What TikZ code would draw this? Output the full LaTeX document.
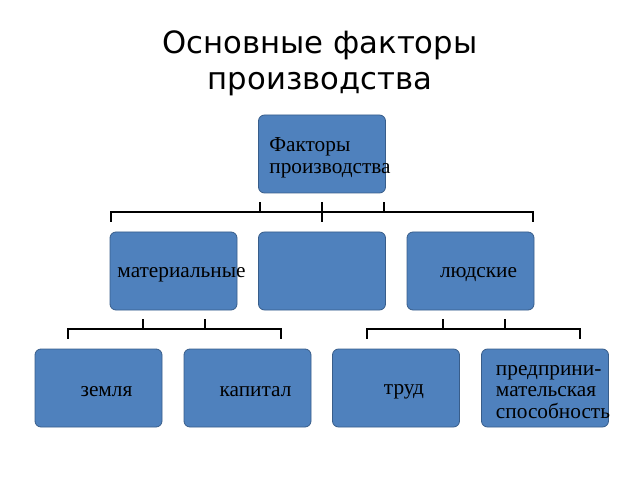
\documentclass[tikz,border=0pt]{standalone}
\usepackage{fontspec}
\setmainfont{Liberation Serif}
\newfontfamily\titlefont{DejaVu Sans}
\usetikzlibrary{positioning}
\definecolor{boxfill}{HTML}{4F81BD}
\definecolor{boxborder}{HTML}{385D8A}

\begin{document}
\begin{tikzpicture}[x=1pt,y=1pt,node distance=117pt and 148.5pt,on grid,
	box/.style={draw=boxborder,fill=boxfill,line width=0.8pt,rounded corners=6pt,minimum width=127pt,minimum height=78pt,inner sep=0pt},
	txt/.style={font=\fontsize{21.3}{21.5}\selectfont,align=left,inner sep=0pt,xshift=8pt,yshift=-4pt},
	bracket/.style={line width=2pt}]
		\useasboundingbox (0,0) rectangle (640,480);
		\node[font=\titlefont\fontsize{30.7}{36}\selectfont,align=center](title) at (320,417) {Основные факторы\\производства};
		\node[box](top) at (322,326) {};
		\node[box](mid)[below=of top] {};
		\node[box](mat)[left=of mid] {};
		\node[box](people)[right=of mid] {};
		\node[box](land)[below left=117pt and 75pt of mat] {};
		\node[box](capital)[below right=117pt and 74pt of mat] {};
		\node[box](labour)[below left=117pt and 74.5pt of people] {};
		\node[box](enterp)[below right=117pt and 74.5pt of people] {};
		\node[txt](top-t) at (top) {Факторы\\производства};
		\node[txt](mat-t) at (mat) {материальные};
		\node[txt](people-t) at (people) {людские};
		\node[txt](land-t) at (land) {земля};
		\node[txt](capital-t) at (capital) {капитал};
		\node[txt](labour-t) at (labour) {труд};
		\node[txt](enterp-t) at (enterp) {предприни-\\мательская\\способность};
		% top bracket
		\coordinate (top-bar) at ([yshift=-19pt]top.south);
		\draw[bracket] ([xshift=1pt,yshift=10pt]mat.north west) |- (top-bar) -| ([xshift=-1.5pt,yshift=10pt]people.north east);
		\draw[bracket] ([xshift=1.5pt,yshift=-9pt]top.south west) -- ++(0,-10pt);
		\draw[bracket] ([xshift=-1.5pt,yshift=-9pt]top.south east) -- ++(0,-10pt);
		\draw[bracket] ([yshift=-9pt]top.south) -- ([yshift=10pt]mid.north);
		% left bracket
		\coordinate (mat-bar) at ([yshift=-19pt]mat.south);
		\draw[bracket] ([xshift=-30.5pt,yshift=10pt]land.north) |- (mat-bar) -| ([xshift=33.5pt,yshift=10pt]capital.north);
		\draw[bracket] ([xshift=-30.5pt,yshift=-9pt]mat.south) -- ++(0,-10pt);
		\draw[bracket] ([xshift=31.5pt,yshift=-9pt]mat.south) -- ++(0,-10pt);
		% right bracket
		\coordinate (people-bar) at ([yshift=-19pt]people.south);
		\draw[bracket] ([xshift=-29.5pt,yshift=10pt]labour.north) |- (people-bar) -| ([xshift=34.5pt,yshift=10pt]enterp.north);
		\draw[bracket] ([xshift=-28pt,yshift=-9pt]people.south) -- ++(0,-10pt);
		\draw[bracket] ([xshift=34pt,yshift=-9pt]people.south) -- ++(0,-10pt);
\end{tikzpicture}
\end{document}
